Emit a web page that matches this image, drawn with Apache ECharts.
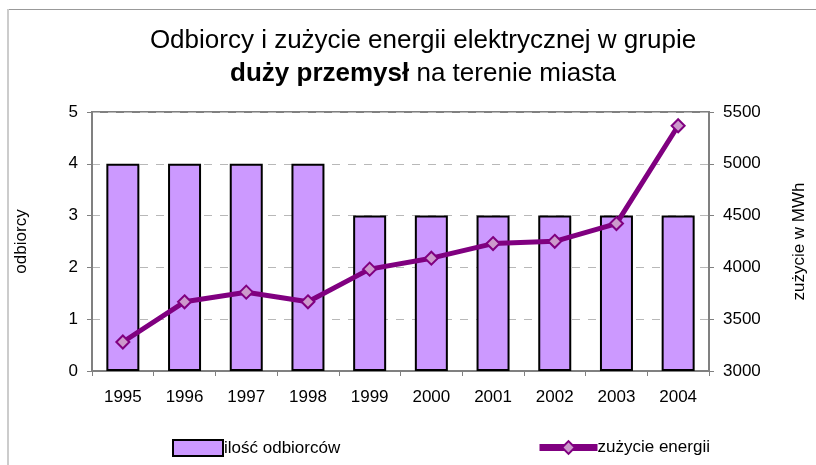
<!DOCTYPE html>
<html><head><meta charset="utf-8">
<script src="https://cdn.jsdelivr.net/npm/echarts@6/dist/echarts.min.js"></script>
<style>html,body{margin:0;padding:0;background:#fff}#c{width:816px;height:465px}</style>
</head><body><div id="c"></div>
<script>
const years = ['1995','1996','1997','1998','1999','2000','2001','2002','2003','2004'];
const odbiorcy = [4,4,4,4,3,3,3,3,3,3];
const zuzycie = [3280,3668,3761,3668,3983,4089,4230,4252,4423,5367];
const leftTicks = {min:0, max:5, interval:1};
const rightTicks = {min:3000, max:5500, interval:500};

const font = 'Liberation Sans, Arial, sans-serif';
const chart = echarts.init(document.getElementById('c'), null, {renderer:'canvas'});
chart.setOption({
  backgroundColor:'#fff',
  animation:false,
  textStyle:{fontFamily:font},
  title:{
    text:'Odbiorcy i zużycie energii elektrycznej w grupie\n{b|duży przemysł} na terenie miasta',
    left:418, top:19, textAlign:'center',
    textStyle:{fontFamily:font, fontSize:26, fontWeight:'normal', color:'#000', lineHeight:33,
      rich:{b:{fontFamily:font, fontSize:26, fontWeight:'bold', color:'#000', lineHeight:33}}}
  },
  graphic:[
    {type:'line', shape:{x1:8,y1:9.5,x2:816,y2:9.5}, style:{stroke:'#999', lineWidth:1}},
    {type:'line', shape:{x1:8,y1:9,x2:8,y2:465}, style:{stroke:'#ccc', lineWidth:2}}
  ],
  legend:[
    {data:[{name:'ilość odbiorców', icon:'rect'}], left:167, top:434, itemWidth:50, itemHeight:16, itemGap:4,
      itemStyle:{borderColor:'#000', borderWidth:2},
      textStyle:{fontFamily:font, fontSize:17, color:'#000', padding:[0,0,0,-4]}},
    {data:['zużycie energii'], left:531, top:434, itemWidth:58, itemHeight:16,
      lineStyle:{width:7, color:'#800080'},
      itemStyle:{color:'#CC99CC', borderColor:'#800080', borderWidth:2},
      textStyle:{fontFamily:font, fontSize:17, color:'#000', padding:[0,0,0,-5]}}
  ],
  grid:{left:92, right:104, top:112, bottom:94, show:true, borderColor:'#808080', borderWidth:2, backgroundColor:'transparent'},
  xAxis:{type:'category', data:years,
    axisLine:{lineStyle:{color:'#808080', width:2}},
    axisTick:{show:true, length:5, lineStyle:{color:'#808080'}},
    axisLabel:{fontFamily:font, fontSize:17, color:'#000', margin:18}},
  yAxis:[
    {type:'value', min:leftTicks.min, max:leftTicks.max, interval:leftTicks.interval, position:'left',
      name:'odbiorcy', nameLocation:'middle', nameGap:62, nameRotate:90,
      nameTextStyle:{fontFamily:font, fontSize:17, color:'#000'},
      axisLine:{show:true, lineStyle:{color:'#808080', width:2}},
      axisTick:{show:true, length:5, lineStyle:{color:'#808080'}},
      axisLabel:{fontFamily:font, fontSize:17, color:'#000', margin:14},
      splitLine:{show:true, lineStyle:{color:'#b8b8b8', type:[8,8], width:1}}},
    {type:'value', min:rightTicks.min, max:rightTicks.max, interval:rightTicks.interval, position:'right',
      name:'zużycie w MWh', nameLocation:'middle', nameGap:82, nameRotate:90,
      nameTextStyle:{fontFamily:font, fontSize:17, color:'#000'},
      axisLine:{show:true, lineStyle:{color:'#808080', width:2}},
      axisTick:{show:true, length:5, lineStyle:{color:'#808080'}},
      axisLabel:{fontFamily:font, fontSize:17, color:'#000', margin:14, formatter:v=>String(v)},
      splitLine:{show:false}}
  ],
  series:[
    {name:'ilość odbiorców', type:'bar', data:odbiorcy, yAxisIndex:0, barWidth:33,
      itemStyle:{color:'#CC99FF', borderColor:'#000', borderWidth:2}},
    {name:'zużycie energii', type:'line', data:zuzycie, yAxisIndex:1,
      symbol:'diamond', symbolSize:13, z:5,
      lineStyle:{color:'#800080', width:5},
      itemStyle:{color:'#CC99CC', borderColor:'#800080', borderWidth:2}}
  ]
});
</script></body></html>
